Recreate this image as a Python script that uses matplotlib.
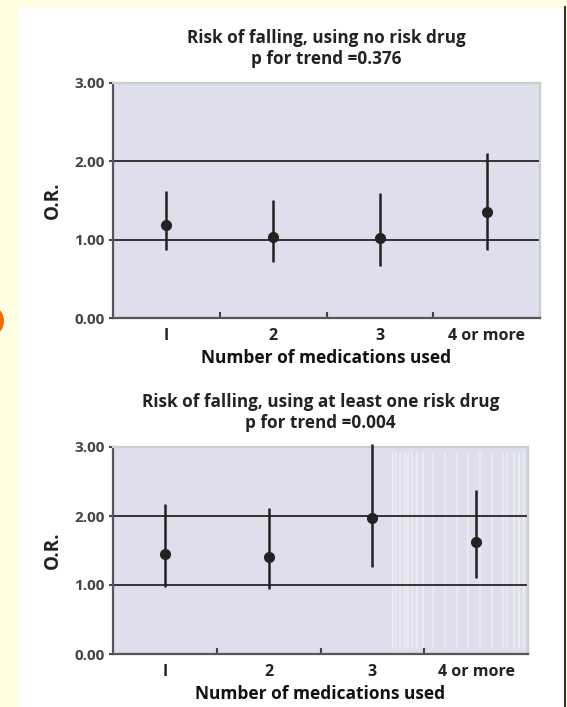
import numpy as np
import matplotlib.pyplot as plt
from matplotlib.patches import Rectangle, Circle
from matplotlib.lines import Line2D

plt.rcParams['font.family'] = ['Open Sans', 'DejaVu Sans']

categories = ['I', '2', '3', '4 or more']

# no risk drug
or_none = [1.19, 1.04, 1.02, 1.35]
lo_none = [0.87, 0.71, 0.66, 0.87]
hi_none = [1.62, 1.51, 1.60, 2.11]

# at least one risk drug
or_risk = [1.45, 1.41, 1.97, 1.62]
lo_risk = [0.97, 0.94, 1.26, 1.10]
hi_risk = [2.18, 2.12, 3.05, 2.38]

titles = ['Risk of falling, using no risk drug\np for trend =0.376',
          'Risk of falling, using at least one risk drug\np for trend =0.004']

fig = plt.figure(figsize=(5.67, 7.07), dpi=100, facecolor='#FFFFE0')

# white slide panel, dark right border, orange bullet
fig.patches.append(Rectangle((19 / 567, 0), (564 - 19) / 567, 700 / 707,
                             transform=fig.transFigure, facecolor='white',
                             edgecolor='none', zorder=-10))
fig.lines.append(Line2D([564.5 / 567] * 2, [0, 700 / 707], transform=fig.transFigure,
                        color='#333333', lw=1.5, zorder=-5))
fig.patches.append(Circle((-7 / 567, 1 - 321 / 707), 11 / 567, transform=fig.transFigure,
                          facecolor='#FF6600', edgecolor='none', zorder=-5))

ax1 = fig.add_axes([113 / 567, 1 - 318 / 707, 427 / 567, 235 / 707])
ax2 = fig.add_axes([113 / 567, 1 - 654 / 707, 415 / 567, 207 / 707])

x = np.arange(1, 5)
for ax, ors, lo, hi, title in [(ax1, or_none, lo_none, hi_none, titles[0]),
                               (ax2, or_risk, lo_risk, hi_risk, titles[1])]:
    ax.set_facecolor('#DEDEEC')
    ax.axhline(1, color='#333333', lw=1.4, zorder=1)
    ax.axhline(2, color='#333333', lw=1.4, zorder=1)
    ors = np.array(ors)
    err = [ors - np.array(lo), np.array(hi) - ors]
    ax.errorbar(x, ors, yerr=err, fmt='o', color='#222222', ms=7, elinewidth=1.8,
                capsize=0, zorder=3, clip_on=False)
    ax.set_xlim(0.5, 4.5)
    ax.set_ylim(0, 3)
    ax.set_yticks([0, 1, 2, 3])
    ax.set_yticklabels(['0.00', '1.00', '2.00', '3.00'])
    ax.set_xticks(x)
    ax.set_xticklabels(categories)
    ax.set_xticks([1.5, 2.5, 3.5, 4.5], minor=True)
    ax.tick_params(axis='x', which='major', length=0, pad=7, labelsize=11.5,
                   labelcolor='#222222')
    ax.tick_params(axis='x', which='minor', direction='in', length=4, width=1.5,
                   color='#444444')
    ax.tick_params(axis='y', length=3, width=1.5, color='#444444', labelsize=11,
                   labelcolor='#444444', pad=3)
    for lab in ax.get_xticklabels() + ax.get_yticklabels():
        lab.set_fontweight('bold')
    for side in ['left', 'bottom']:
        ax.spines[side].set_color('#555555')
        ax.spines[side].set_linewidth(1.6)
    for side in ['top', 'right']:
        ax.spines[side].set_color('#C8D0C8')
        ax.spines[side].set_linewidth(1.6)
    ax.set_ylabel('O.R.', fontsize=13.5, fontweight='bold', color='#222222', labelpad=8)
    ax.set_xlabel('Number of medications used', fontsize=12.5, fontweight='bold',
                  color='#111111', labelpad=4)
    ax.set_title(title, fontsize=12.3, fontweight='bold', color='#222222', pad=14,
                 linespacing=1.15)

# faint white stripes on the right of the lower panel
stripes = [3.196, 3.228, 3.266, 3.314, 3.340, 3.379, 3.427, 3.485, 3.587, 3.699,
           3.812, 3.924, 4.036, 4.149, 4.255, 4.299, 4.364, 4.415, 4.460]
for xs in stripes:
    ax2.axvline(xs, ymin=0.03, ymax=0.97, color='#EDEDF5', lw=1.1, zorder=0.5)

plt.savefig('out.png', dpi=100, facecolor=fig.get_facecolor())
